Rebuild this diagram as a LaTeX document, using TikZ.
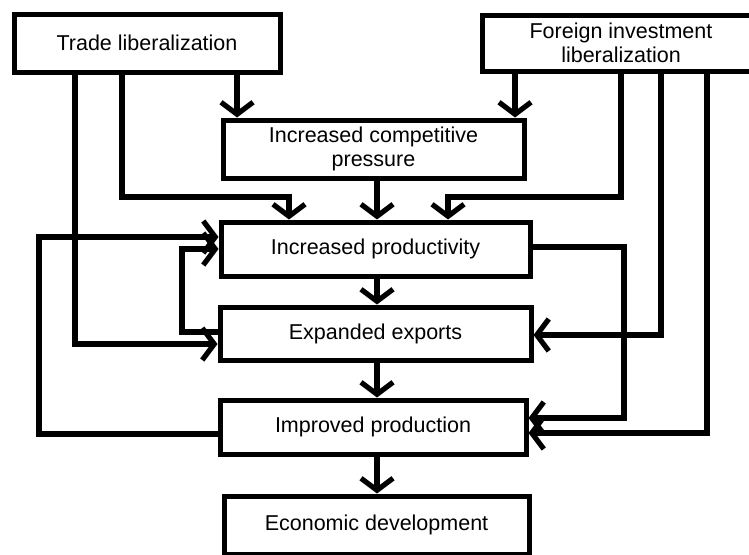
\documentclass[tikz,border=0pt]{standalone}
\usepackage{fontspec}
\setmainfont{Liberation Sans}
\usetikzlibrary{arrows.meta}
\begin{document}
\begin{tikzpicture}[x=1pt,y=-1pt,
  every node/.style={font=\fontsize{21.5}{24}\selectfont},
  box/.style={draw,line width=5pt,inner sep=0pt,align=center,fill=white},
  link/.style={line width=5.2pt,line join=miter,
    -{Straight Barb[length=12pt,width=32pt,line cap=butt]}}]
\useasboundingbox (0,0) rectangle (749,554);
\fill[white] (0,0) rectangle (749,554);

% boxes
\node[box,minimum width=266pt,minimum height=58pt] (trade) at (147,43) {Trade liberalization};
\node[box,minimum width=278pt,minimum height=56pt] (fdi) at (621,43) {Foreign investment\\liberalization};
\node[box,minimum width=301pt,minimum height=58pt] (comp) at (373.5,149) {Increased competitive\\pressure};
\node[box,minimum width=309pt,minimum height=54pt] (prod) at (375.5,249) {Increased productivity};
\node[box,minimum width=311pt,minimum height=53pt] (exp) at (375.5,333.5) {Expanded exports};
\node[box,minimum width=306pt,minimum height=54pt] (impr) at (373,427) {Improved production};
\node[box,minimum width=305pt,minimum height=58pt] (econ) at (376.5,525) {Economic development};

% lane corners
\coordinate (a1) at (237,0);
\coordinate (a2) at (515,0);
\coordinate (c) at (377,0);
\coordinate (t1) at (122,197);
\coordinate (t2) at (289,197);
\coordinate (f1) at (621,197);
\coordinate (f2) at (448,197);
\coordinate (t3) at (75,344);
\coordinate (x1) at (182,332);
\coordinate (x2) at (182,249);
\coordinate (p1) at (39,434);
\coordinate (p2) at (39,237);
\coordinate (q1) at (624,247);
\coordinate (q2) at (624,418);
\coordinate (f3) at (661,335);
\coordinate (f4) at (707,433);

% main chain
\draw[link] (trade.south -| a1) -- (comp.north -| a1);
\draw[link] (fdi.south -| a2) -- (comp.north -| a2);
\draw[link] (comp.south -| c) -- (prod.north -| c);
\draw[link] (prod.south -| c) -- (exp.north -| c);
\draw[link] (exp.south -| c) -- (impr.north -| c);
\draw[link] (impr.south -| c) -- (econ.north -| c);

% trade liberalization links
\draw[link] (trade.south -| t1) -- (t1) -- (t2) -- (prod.north -| t2);
\draw[link] (trade.south -| t3) -- (t3) -- (exp.west |- t3);

% foreign investment links
\draw[link] (fdi.south -| f1) -- (f1) -- (f2) -- (prod.north -| f2);
\draw[link] (fdi.south -| f3) -- (f3) -- (exp.east |- f3);
\draw[link] (fdi.south -| f4) -- (f4) -- (impr.east |- f4);

% feedback loops
\draw[link] (exp.west |- x1) -- (x1) -- (x2) -- (prod.west |- x2);
\draw[link] (impr.west |- p1) -- (p1) -- (p2) -- (prod.west |- p2);
\draw[link] (prod.east |- q1) -- (q1) -- (q2) -- (impr.east |- q2);
\end{tikzpicture}
\end{document}
